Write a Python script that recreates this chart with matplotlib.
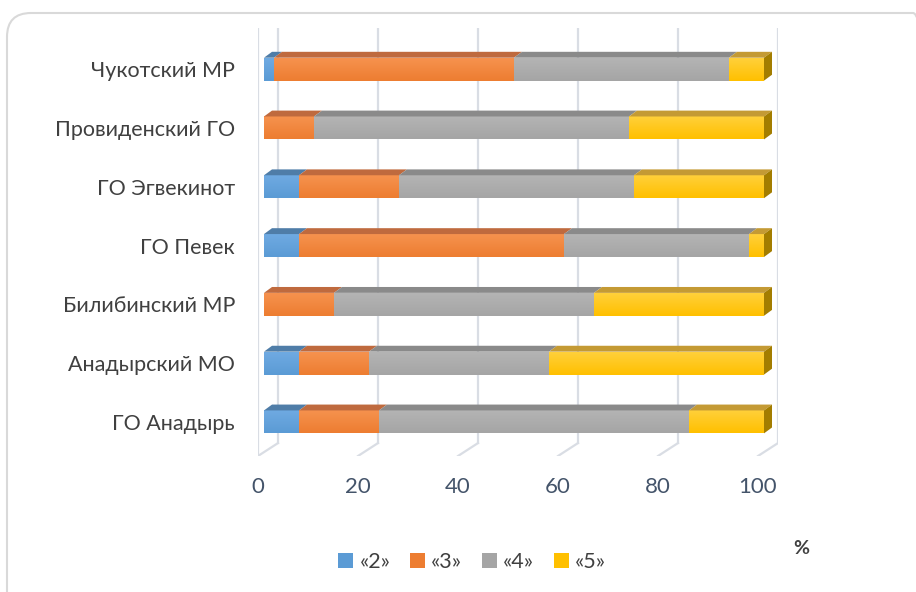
import numpy as np
import matplotlib
matplotlib.use("Agg")
import matplotlib.pyplot as plt
from matplotlib.patches import Polygon, Patch, FancyBboxPatch
from matplotlib.transforms import IdentityTransform
from matplotlib.colors import to_rgb

# Data (percent), bottom to top
districts = ["ГО Анадырь", "Анадырский МО", "Билибинский МР", "ГО Певек",
             "ГО Эгвекинот", "Провиденский ГО", "Чукотский МР"]
grade2 = [7, 7, 0, 7, 7, 0, 2]
grade3 = [16, 14, 14, 53, 20, 10, 48]
grade4 = [62, 36, 52, 37, 47, 63, 43]
grade5 = [15, 43, 34, 3, 26, 27, 7]
series_names = ["«2»", "«3»", "«4»", "«5»"]
xticks = [0, 20, 40, 60, 80, 100]

base = ["#5B9BD5", "#ED7D31", "#A5A5A5", "#FFC000"]
light = ["#6FAAE2", "#F6924E", "#B4B4B4", "#FFD03A"]
topc = ["#4F7DA8", "#BF6A3E", "#8A8A8A", "#C49A34"]
sidec = ["#3F6F9C", "#B05A20", "#7A7A7A", "#A37D00"]

plt.rcParams['font.family'] = ['Lato', 'DejaVu Sans']

W, H = 916, 592
fig = plt.figure(figsize=(W / 100, H / 100), dpi=100)

# axes: x 0..104 over 258..778 px, y -0.58..6.7 over 456..28 px
ylo, yhi = -0.58, 6.7
ax = fig.add_axes([258 / W, (H - 456) / H, 520 / W, 428 / H])
ax.set_xlim(0, 104)
ax.set_ylim(ylo, yhi)
for s in ax.spines.values():
    s.set_visible(False)

grid_c = "#D9DDE4"
gdx, floor_back = 4.0, -0.36
ax.plot([0, 0], [ylo, yhi], color=grid_c, lw=1.6, zorder=0)
for t in xticks:
    ax.plot([t + gdx, t + gdx], [floor_back, yhi], color=grid_c, lw=1.6, zorder=0)
    ax.plot([t, t + gdx], [ylo, floor_back], color=grid_c, lw=1.6, zorder=0)

# 3D-like bars
x_off, dx, dy, bh = 1.2, 1.6, 0.10, 0.39
data = np.array([grade2, grade3, grade4, grade5], dtype=float)
for i in range(len(districts)):
    yb, yt = i - bh / 2, i + bh / 2
    left = x_off
    last = max(k for k in range(4) if data[k, i] > 0)
    for k in range(4):
        v = data[k, i]
        if v <= 0:
            continue
        x0, x1 = left, left + v
        grad = np.linspace(to_rgb(light[k]), to_rgb(base[k]), 32)[:, None, :]
        ax.imshow(grad, extent=[x0, x1, yb, yt], origin='upper', aspect='auto',
                  interpolation='bilinear', zorder=3)
        ax.add_patch(Polygon([(x0, yt), (x1, yt), (x1 + dx, yt + dy), (x0 + dx, yt + dy)],
                             closed=True, facecolor=topc[k], edgecolor='none', zorder=3))
        if k == last:
            ax.add_patch(Polygon([(x1, yb), (x1, yt), (x1 + dx, yt + dy), (x1 + dx, yb + dy)],
                                 closed=True, facecolor=sidec[k], edgecolor='none', zorder=3))
        left = x1
ax.set_xlim(0, 104)
ax.set_ylim(ylo, yhi)

ax.set_xticks(xticks)
ax.set_xticklabels([str(t) for t in xticks], fontsize=16, color="#44546A")
ax.set_yticks(range(len(districts)))
ax.set_yticklabels(districts, fontsize=15.5, color="#404040")
ax.tick_params(axis='x', length=0, pad=15)
ax.tick_params(axis='y', length=0, pad=16.5)

handles = [Patch(facecolor=base[k], edgecolor='none') for k in range(4)]
fig.legend(handles, series_names, loc='center', bbox_to_anchor=(472 / W, 1 - 562 / H),
           ncol=4, frameon=False, fontsize=15.5, handlelength=0.7, handleheight=0.7,
           handletextpad=0.3, columnspacing=0.9, labelcolor="#404040")
fig.text(801 / W, 1 - 549 / H, "%", ha='center', va='center', fontsize=14,
         fontweight='bold', color="#404040")

fig.add_artist(FancyBboxPatch((7, -30), 930, H - 13 + 30,
                              boxstyle="round,pad=0,rounding_size=24",
                              transform=IdentityTransform(), facecolor='none',
                              edgecolor="#D9D9D9", lw=1.5))

fig.savefig("out.png", dpi=100)
